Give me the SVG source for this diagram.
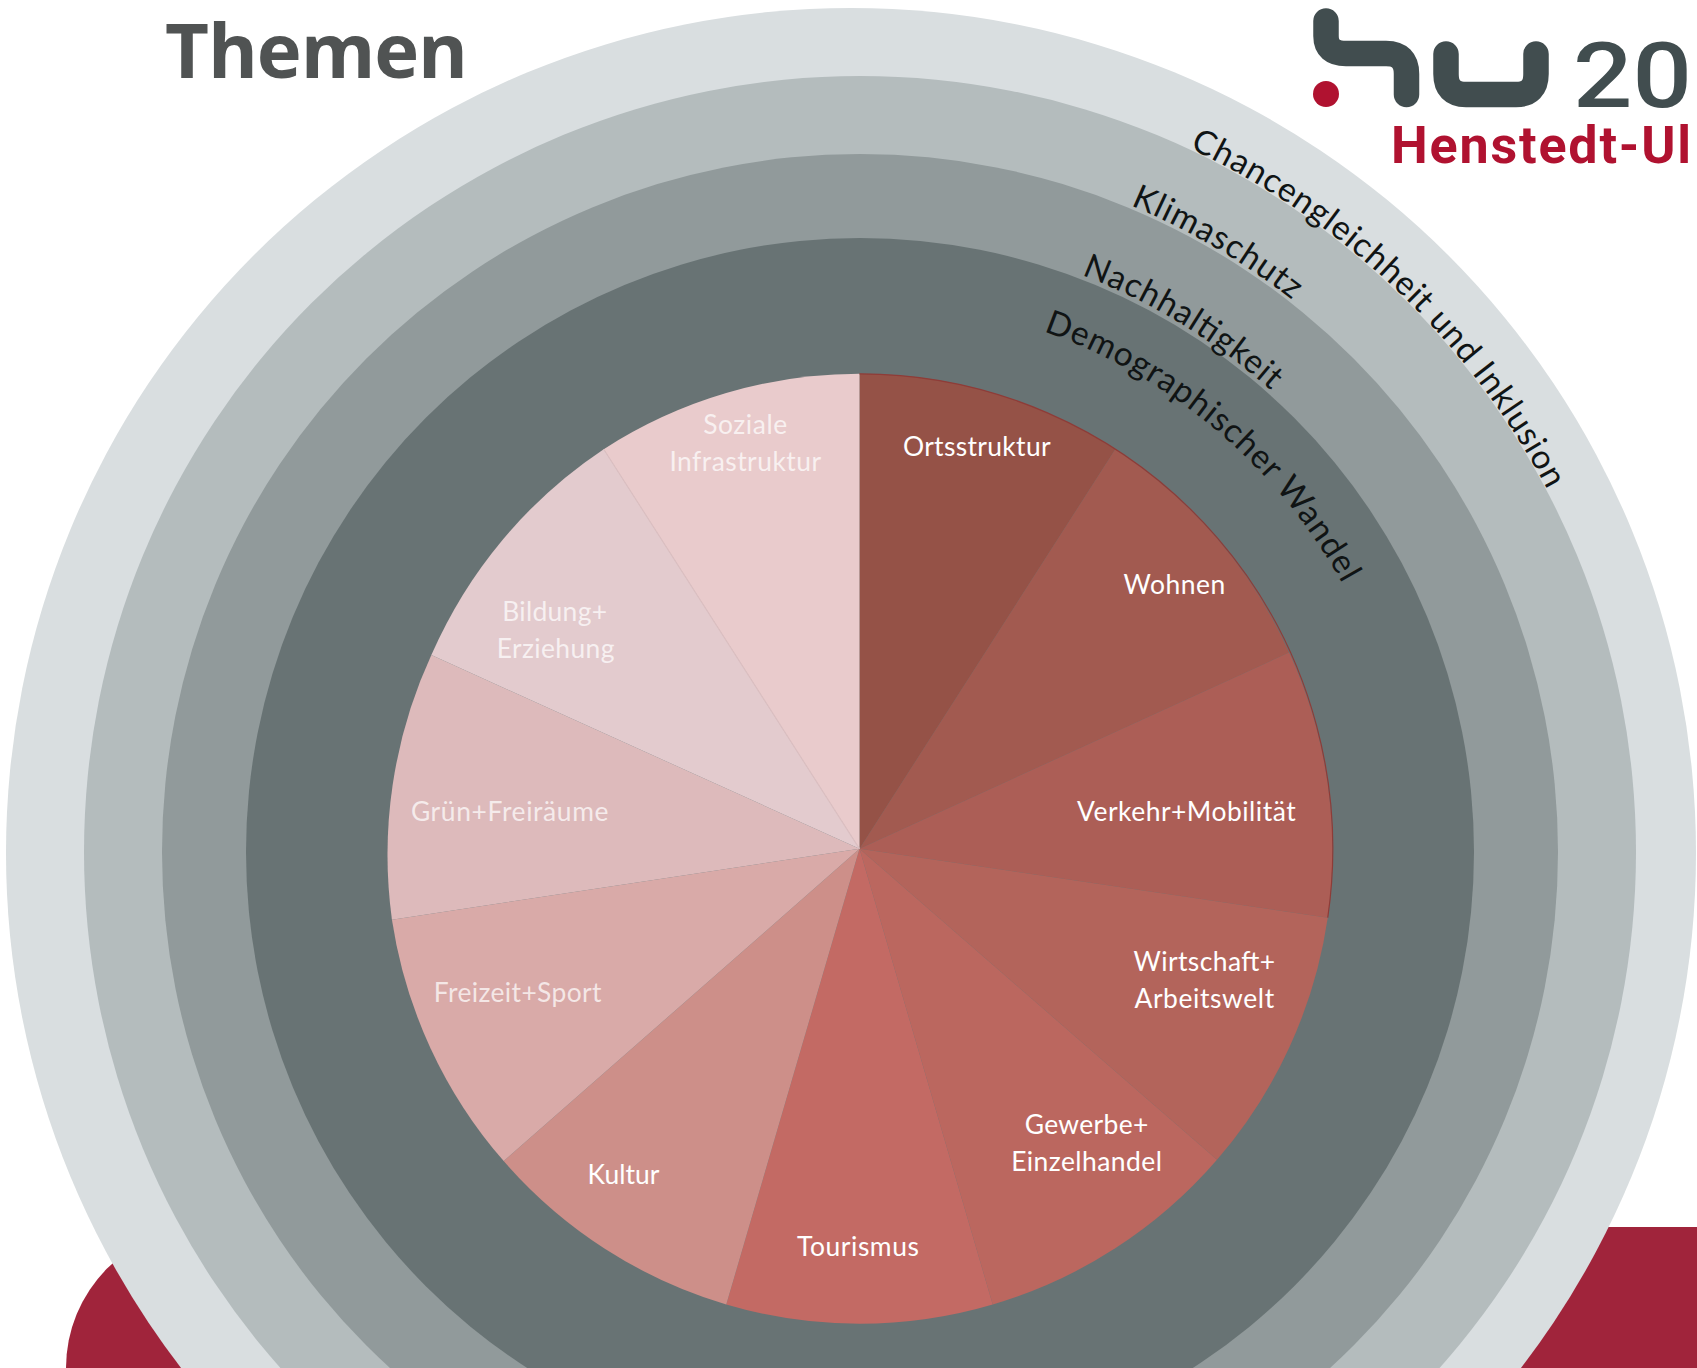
<svg xmlns="http://www.w3.org/2000/svg" width="1697" height="1368" viewBox="0 0 1697 1368">
<style>
.l{font-family:"Lato","Carlito","Liberation Sans",sans-serif;font-size:26.5px;fill:#fff;text-anchor:middle}
.f{fill-opacity:.72}
.c{font-family:"Lato","Carlito","Liberation Sans",sans-serif;font-size:33.5px;fill:#101414}
</style>
<defs>
<path id="p1" d="M1189.6,148.4 A777,777 0 0 1 1590.1,586.3"/>
<path id="p2" d="M1130.5,205.3 A701,701 0 0 1 1397,401.4"/>
<path id="p3" d="M1081.5,275 A618,618 0 0 1 1366.3,497.5"/>
<path id="p4" d="M1043.4,331.3 A552,552 0 0 1 1378.7,663.2"/>
</defs>
<rect width="1697" height="1368" fill="#fff"/>
<g id="band">
<path d="M66,1368 A141,141 0 0 1 207,1227 H1697 V1368 Z" fill="#a0243b"/>
</g>
<g id="rings">
<circle id="ring-chancengleichheit" cx="851" cy="853" r="845" fill="#d9dee0"/>
<circle id="ring-klimaschutz" cx="860" cy="852" r="776" fill="#b4bcbd"/>
<circle id="ring-nachhaltigkeit" cx="860" cy="852" r="698" fill="#919a9b"/>
<circle id="ring-demographie" cx="860" cy="852" r="614" fill="#687374"/>
</g>
<g id="ring-labels">
<text class="c"><textPath href="#p1" textLength="503">Chancengleichheit und Inklusion</textPath></text>
<text class="c"><textPath href="#p2" textLength="188">Klimaschutz</textPath></text>
<text class="c"><textPath href="#p3" textLength="223">Nachhaltigkeit</textPath></text>
<text class="c"><textPath href="#p4" textLength="400">Demographischer Wandel</textPath></text>
</g>
<g id="pie" transform="translate(859.5 848.8) scale(0.998 1.002) translate(-859.5 -848.3)">
<g id="ortsstruktur"><path d="M859.5,848.3 L859.5,374.3 A474,474 0 0 1 1115.8,449.5 Z" fill="#955247"/><text class="l" x="977" y="456" textLength="148">Ortsstruktur</text></g>
<g id="wohnen"><path d="M859.5,848.3 L1115.8,449.5 A474,474 0 0 1 1290,652.5 Z" fill="#a25a50"/><text class="l" x="1175" y="594" textLength="102">Wohnen</text></g>
<g id="verkehr"><path d="M859.5,848.3 L1290,652.5 A474,474 0 0 1 1328.7,917 Z" fill="#ac5e56"/><text class="l" x="1187" y="821" textLength="219">Verkehr+Mobilität</text></g>
<g id="wirtschaft"><path d="M859.5,848.3 L1328.7,917 A474,474 0 0 1 1217.7,1158.7 Z" fill="#b3645b"/><text class="l" x="1205" y="970" textLength="142">Wirtschaft+</text><text class="l" x="1205" y="1007" textLength="140">Arbeitswelt</text></g>
<g id="gewerbe"><path d="M859.5,848.3 L1217.7,1158.7 A474,474 0 0 1 993,1303.1 Z" fill="#bb675f"/><text class="l" x="1087" y="1133" textLength="124">Gewerbe+</text><text class="l" x="1087" y="1170" textLength="151">Einzelhandel</text></g>
<g id="tourismus"><path d="M859.5,848.3 L993,1303.1 A474,474 0 0 1 726,1303.1 Z" fill="#c36a64"/><text class="l" x="858" y="1255" textLength="122">Tourismus</text></g>
<g id="kultur"><path d="M859.5,848.3 L726,1303.1 A474,474 0 0 1 503,1160 Z" fill="#cd8f89"/><text class="l" x="623" y="1183" textLength="72">Kultur</text></g>
<g id="freizeit"><path d="M859.5,848.3 L503,1160 A474,474 0 0 1 391,919 Z" fill="#d9aaa8"/><text class="l f" x="517" y="1001" textLength="168">Freizeit+Sport</text></g>
<g id="gruen"><path d="M859.5,848.3 L391,919 A474,474 0 0 1 430.500,655 Z" fill="#ddbabb"/><text class="l f" x="509" y="821" textLength="198">Grün+Freiräume</text></g>
<g id="bildung"><path d="M859.5,848.3 L430.500,655 A474,474 0 0 1 603.2,449.5 Z" fill="#e3cbce"/><text class="l f" x="554" y="621" textLength="105">Bildung+</text><text class="l f" x="555" y="658" textLength="118">Erziehung</text></g>
<g id="soziale"><path d="M859.5,848.3 L603.2,449.5 A474,474 0 0 1 859.5,374.3 Z" fill="#e9cbcc"/><text class="l f" x="745" y="434" textLength="84">Soziale</text><text class="l f" x="745" y="471" textLength="152">Infrastruktur</text></g>
<path d="M859.5,848.3 L603.2,449.5" fill="none" stroke="#dcc0c2" stroke-width="1.2"/>
<path d="M859.5,374.3 A474,474 0 0 1 1328.7,917" fill="none" stroke="#8e3c38" stroke-width="1.2"/>
</g>
<g id="title"><text x="165" y="78" font-family="'Open Sans','Liberation Sans',sans-serif" font-weight="700" font-size="76" fill="#505353" textLength="303">Themen</text></g>
<g id="logo">
<path d="M1326,21 V36 Q1326,53.500 1346,53.500 H1386 Q1406.500,53.500 1406.500,74 V94.500" fill="none" stroke="#414d4f" stroke-width="25.500" stroke-linecap="round"/>
<path d="M1446,54 V74 Q1446,94.500 1466,94.500 H1516 Q1536,94.500 1536,74 V54" fill="none" stroke="#414d4f" stroke-width="25.500" stroke-linecap="round"/>
<circle cx="1326" cy="94" r="13" fill="#b01230"/>
<text transform="translate(1573 107) scale(1.15 1)" font-family="Roboto,'Liberation Sans',sans-serif" font-weight="500" font-size="91" fill="#414d4f">20</text>
<text x="1391" y="163" font-family="Roboto,'Liberation Sans',sans-serif" font-weight="700" font-size="52" fill="#b01230" textLength="300">Henstedt-Ul</text>
</g>
</svg>
